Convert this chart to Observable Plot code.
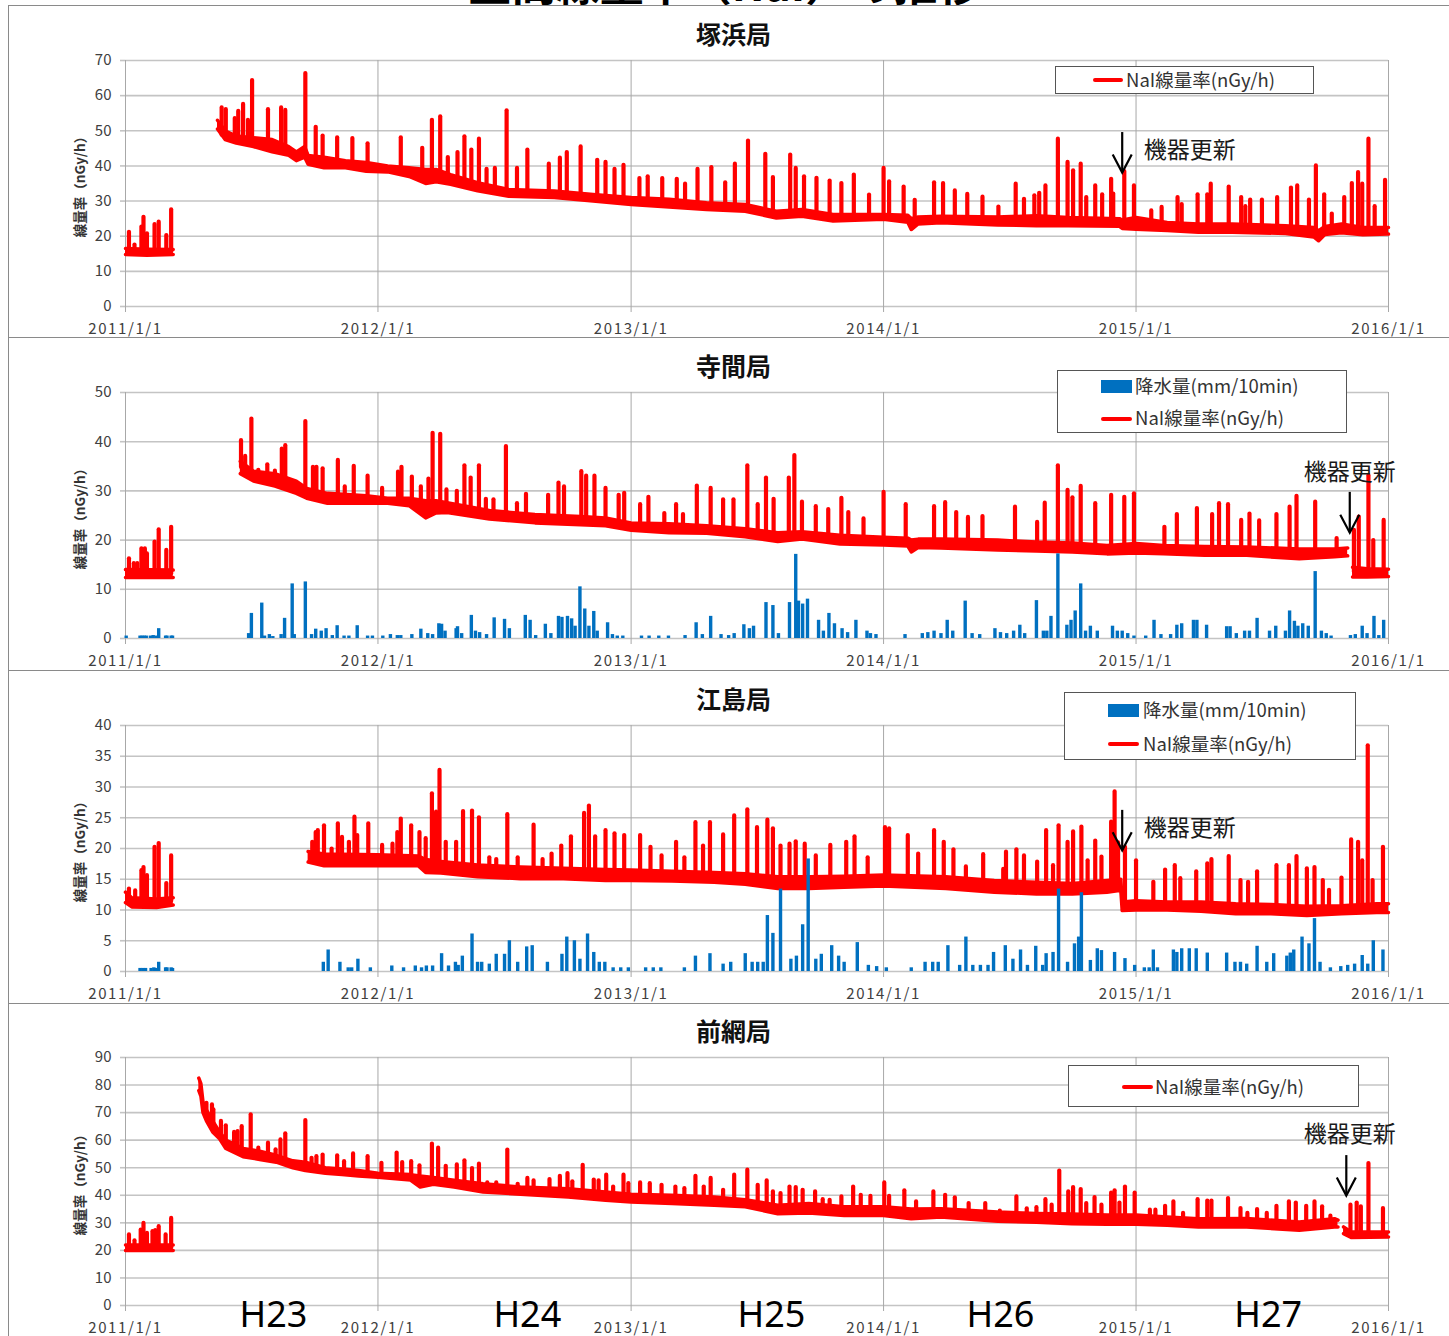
<!DOCTYPE html>
<html><head><meta charset="utf-8">
<script src="https://cdn.jsdelivr.net/npm/d3@7"></script>
<script src="https://cdn.jsdelivr.net/npm/@observablehq/plot@0.6"></script>
<style>
body{margin:0;background:#fff;}
#page{position:relative;width:1449px;height:1336px;overflow:hidden;background:#fff;font-family:"Noto Sans CJK JP","Noto Sans",sans-serif;}
#frame{position:absolute;left:8px;top:5px;right:-5px;bottom:-5px;border-left:1.5px solid #8a8a8a;border-top:1.5px solid #8a8a8a;}
.sep{position:absolute;left:8px;right:0;height:0;border-top:1.5px solid #8a8a8a;}
.panel{position:absolute;left:0;width:1449px;height:333px;}
.panel svg{overflow:visible;}
.legend{position:absolute;border:1.3px solid #555;background:#fff;box-sizing:border-box;}
.li{position:absolute;font-size:18.5px;color:#333;line-height:1;white-space:nowrap;}
.ls{position:absolute;height:4px;background:#ff0000;border-radius:2px;}
.bs{position:absolute;background:#0070c0;}
#title{position:absolute;left:0;width:1449px;top:-40px;height:45px;overflow:hidden;text-align:center;font-size:44px;font-weight:bold;color:#000;line-height:45px;}
</style></head>
<body><div id="page">
<div id="title"><span style="border-bottom:3px solid #000;">空間線量率（NaI）の推移</span></div>
<div id="frame"></div>
<div class="sep" style="top:337px"></div>
<div class="sep" style="top:670px"></div>
<div class="sep" style="top:1003px"></div>
<div id="p1" class="panel" style="top:5px"></div>
<div id="p2" class="panel" style="top:337px"></div>
<div id="p3" class="panel" style="top:670px"></div>
<div id="p4" class="panel" style="top:1003px"></div>

<div class="legend" style="left:1055px;top:66px;width:259px;height:28px;">
  <div class="ls" style="left:37px;top:11px;width:30px;"></div>
  <div class="li" style="left:70px;top:3px;">NaI線量率(nGy/h)</div>
</div>
<div class="legend" style="left:1057px;top:370px;width:290px;height:63px;">
  <div class="bs" style="left:43px;top:9px;width:31px;height:13px;"></div>
  <div class="li" style="left:77px;top:5px;">降水量(mm/10min)</div>
  <div class="ls" style="left:43px;top:46px;width:31px;"></div>
  <div class="li" style="left:77px;top:37px;">NaI線量率(nGy/h)</div>
</div>
<div class="legend" style="left:1064px;top:692px;width:292px;height:68px;">
  <div class="bs" style="left:43px;top:11px;width:31px;height:13px;"></div>
  <div class="li" style="left:78px;top:7px;">降水量(mm/10min)</div>
  <div class="ls" style="left:43px;top:49px;width:31px;"></div>
  <div class="li" style="left:78px;top:41px;">NaI線量率(nGy/h)</div>
</div>
<div class="legend" style="left:1068px;top:1065px;width:291px;height:42px;">
  <div class="ls" style="left:53px;top:19px;width:31px;"></div>
  <div class="li" style="left:86px;top:11px;">NaI線量率(nGy/h)</div>
</div>
</div>
<script>
// ---------------- data ----------------
const years = ["2011-01-01","2012-01-01","2013-01-01","2014-01-01","2015-01-01","2016-01-01"];
const stationNames = ["塚浜局","寺間局","江島局","前網局"];
const yAxisTitle = "線量率（nGy/h）";
const updateLabel = "機器更新";
const fiscalYears = ["H23","H24","H25","H26","H27"];
const fiscalLabelDates = ["2011-08-03","2012-08-04","2013-07-23","2014-06-19","2015-07-11"];

// band rows: [date, lower edge, upper edge]  (null = data gap)
const tsukahamaBand = [
["2011-01-01",14.8,16.5],["2011-02-01",14.6,16.3],["2011-03-11",14.8,16.2],["2011-03-12",null,null],
["2011-05-14",50.5,53],["2011-05-25",47.5,50],["2011-06-10",46.5,48.5],["2011-07-05",45.5,48],["2011-08-01",44,47.5],
["2011-08-25",43,45.5],["2011-09-05",41.5,44],["2011-09-17",42.5,45.5],["2011-09-22",40.5,43],["2011-10-15",39.5,42.5],
["2011-11-15",39.5,41.5],["2011-12-15",38.5,41],["2012-01-15",38.3,40],["2012-02-15",37,39.5],["2012-03-10",35,39],
["2012-03-25",35.5,39],["2012-04-15",34.8,37.5],["2012-05-24",32.9,35.2],["2012-07-08",31.4,33.3],["2012-09-12",31,32.9],
["2012-11-07",30,31.9],["2013-01-01",29,31],["2013-02-25",28.3,30.5],["2013-04-20",27.6,29.5],["2013-06-15",27.1,29],
["2013-07-30",25.2,27.1],["2013-09-05",25.7,27.6],["2013-10-20",24.3,26.2],["2014-01-01",24.8,26.2],["2014-02-05",24,26],
["2014-02-10",21.9,25],["2014-02-20",23.5,25.5],["2014-03-25",23.8,25.7],["2014-06-15",23.2,25.5],["2014-08-10",23,25.8],
["2014-09-25",23,25.3],["2014-12-08",22.8,25],["2014-12-12",22.2,24.6],["2015-01-01",22,25.3],["2015-02-15",21.6,23.9],
["2015-04-01",21.1,23.5],["2015-05-20",21.1,23.5],["2015-08-05",20.8,23],["2015-09-15",19.8,22.5],["2015-09-22",18.7,21.6],
["2015-10-01",20.5,22.8],["2015-10-25",21,23.5],["2015-11-25",20.4,22.5],["2016-01-01",20.6,22.5]];
// spike rows: [date, peak]
const tsukahamaSpikes = [
["2011-01-06",21.1],["2011-01-14",17.5],["2011-01-24",22.6],["2011-01-27",25.4],["2011-02-01",20.7],["2011-02-12",23.3],
["2011-02-18",24],["2011-03-01",20.2],["2011-03-08",27.5],["2011-05-20",56.5],["2011-05-26",56],["2011-06-08",53.5],
["2011-06-13",55.5],["2011-06-20",57.5],["2011-06-27",53],["2011-07-03",64.3],["2011-07-26",56],["2011-08-14",56.5],
["2011-08-20",55.8],["2011-09-18",66.3],["2011-10-03",51],["2011-10-13",48.5],["2011-11-03",48],["2011-11-25",47.8],
["2011-12-17",46.3],["2012-02-03",48],["2012-03-05",45],["2012-03-19",53],["2012-03-31",54],["2012-04-11",42.4],
["2012-04-25",43.8],["2012-05-05",48.3],["2012-05-15",44.5],["2012-05-26",47.6],["2012-06-06",39],["2012-06-18",39.3],
["2012-07-05",55.7],["2012-07-20",39.3],["2012-08-04",44.5],["2012-09-04",40.5],["2012-09-20",42.2],["2012-09-30",43.8],
["2012-10-20",45.4],["2012-11-13",41.6],["2012-11-25",41],["2012-12-08",39],["2012-12-21",40.2],["2013-01-13",36.4],
["2013-01-25",36.9],["2013-02-15",36.4],["2013-03-08",36.2],["2013-03-20",34.8],["2013-04-07",39],["2013-04-27",39.5],
["2013-05-17",35.2],["2013-05-31",40.5],["2013-06-19",47.1],["2013-07-14",43.3],["2013-07-25",36.7],["2013-08-19",43.1],
["2013-08-27",39.3],["2013-09-08",36.9],["2013-09-26",36.5],["2013-10-15",35.7],["2013-11-01",35],["2013-11-19",37.4],
["2013-12-11",31.7],["2014-01-01",39.3],["2014-01-09",35.5],["2014-01-30",34],["2014-02-15",30.2],["2014-03-15",35.2],
["2014-03-28",35],["2014-04-14",32.9],["2014-05-02",31.9],["2014-05-24",31.1],["2014-06-16",28.3],["2014-07-11",34.8],
["2014-07-23",30.5],["2014-08-07",31.5],["2014-08-14",32.2],["2014-08-23",34.3],["2014-09-10",47.6],["2014-09-24",41],
["2014-10-02",38.6],["2014-10-13",40.5],["2014-10-21",31],["2014-11-03",34.3],["2014-11-13",31.8],["2014-11-26",36.2],
["2014-11-29",32],["2014-12-15",38.4],["2014-12-29",34.3],["2015-01-23",27.2],["2015-02-07",28.2],["2015-03-02",31],
["2015-03-08",29],["2015-03-31",31.8],["2015-04-14",31.8],["2015-04-19",34.8],["2015-05-15",34],["2015-06-02",31],
["2015-06-08",28.4],["2015-06-15",30.3],["2015-07-02",30.3],["2015-07-24",31],["2015-08-13",33.7],["2015-08-22",34.3],
["2015-09-08",30.3],["2015-09-18",40],["2015-09-30",31.8],["2015-10-11",26.3],["2015-10-29",31],["2015-11-09",35],
["2015-11-18",38.1],["2015-11-24",34.8],["2015-12-03",47.6],["2015-12-12",28.4],["2015-12-27",35.9]];

const teramaBand = [
["2011-01-01",12.4,14],["2011-03-11",12.4,13.9],["2011-03-12",null,null],
["2011-06-16",33.5,36],["2011-07-05",32,34],["2011-08-05",31,33.5],["2011-09-05",29.5,32],["2011-09-20",28.5,30.5],
["2011-10-20",27.5,29.5],["2011-12-15",27.5,29],["2012-01-15",27.5,28.5],["2012-02-15",27,28.5],["2012-03-10",24.5,28],
["2012-03-25",25.5,28],["2012-04-10",25.6,27.6],["2012-06-10",24.3,26],["2012-08-15",23.5,25.2],["2012-10-20",23.1,24.8],
["2012-11-25",22.9,24.5],["2013-01-01",22,23.5],["2013-02-25",21.5,23.3],["2013-04-20",21.4,22.9],["2013-06-15",20.7,22.3],
["2013-08-01",19.7,21.5],["2013-09-05",20.2,21.7],["2013-10-30",19.2,21],["2014-01-01",19,20.6],["2014-02-05",18.8,20.4],
["2014-02-10",17.6,20],["2014-02-20",18.5,20.2],["2014-03-25",18.4,20.2],["2014-06-15",18,20],["2014-08-10",17.8,19.6],
["2014-10-01",17.6,19.4],["2014-11-20",17.2,18.9],["2015-01-01",17.4,19.3],["2015-02-10",17.2,18.9],["2015-04-10",16.9,18.7],
["2015-06-10",16.9,18.6],["2015-08-25",16.2,18.2],["2015-10-15",16.6,18.2],["2015-11-03",16.8,18.4],["2015-11-04",null,null],
["2015-11-10",12.5,14.5],["2015-12-01",12.5,14.2],["2016-01-01",12.6,14.1]];
const teramaSpikes = [
["2011-01-06",16.2],["2011-01-13",15.2],["2011-01-18",15.2],["2011-01-24",18.2],["2011-01-29",18.2],["2011-02-01",17.2],
["2011-02-12",19.6],["2011-02-18",22.1],["2011-03-01",17.9],["2011-03-08",22.6],["2011-06-17",40.2],["2011-06-23",37],
["2011-07-02",44.6],["2011-07-12",34.2],["2011-07-25",35.3],["2011-08-05",34],["2011-08-15",38.5],["2011-08-20",39.2],
["2011-09-18",44.1],["2011-09-29",34.8],["2011-10-04",34.8],["2011-10-13",34.5],["2011-11-04",36.2],["2011-11-14",30.8],
["2011-11-27",35],["2011-12-17",33],["2012-01-07",30.5],["2012-01-30",33.8],["2012-02-04",34.8],["2012-02-19",32.8],
["2012-03-03",30.8],["2012-03-14",32.4],["2012-03-20",41.7],["2012-03-31",41.5],["2012-04-09",30.2],["2012-04-24",29.9],
["2012-05-05",35.1],["2012-05-14",32.6],["2012-05-26",35.1],["2012-06-05",28.3],["2012-06-16",28.2],["2012-07-04",39],
["2012-07-20",27.4],["2012-08-02",29.3],["2012-09-03",29.1],["2012-09-18",31.6],["2012-09-26",30.8],["2012-10-21",33.9],
["2012-10-28",33],["2012-11-09",33],["2012-11-25",30.5],["2012-12-14",29.1],["2012-12-22",29.5],["2013-01-14",27.2],
["2013-01-26",28.7],["2013-02-18",25.4],["2013-03-07",27.2],["2013-03-17",25.2],["2013-04-06",31],["2013-04-26",30.5],
["2013-05-14",28.2],["2013-05-29",28.2],["2013-06-18",35.1],["2013-07-03",27.2],["2013-07-15",32.6],["2013-07-26",28.3],
["2013-08-17",32.6],["2013-08-25",37.2],["2013-09-05",27.7],["2013-09-25",26.8],["2013-10-13",26.2],["2013-11-01",28.5],
["2013-11-11",25.6],["2013-12-03",24.3],["2014-01-01",29.7],["2014-02-02",27.2],["2014-03-15",26.8],["2014-03-31",27.6],
["2014-04-16",25.6],["2014-05-03",24.6],["2014-05-24",24.8],["2014-07-10",26.7],["2014-08-11",23.6],["2014-08-22",27.5],
["2014-09-10",35.1],["2014-09-24",30.1],["2014-10-01",28.6],["2014-10-13",30.9],["2014-11-03",27.4],["2014-11-26",29.1],
["2014-12-15",28.7],["2014-12-29",29.4],["2015-02-11",22.6],["2015-03-01",25.2],["2015-03-30",26.4],["2015-04-21",25.2],
["2015-05-01",27.4],["2015-05-14",27.2],["2015-06-02",24],["2015-06-14",25.3],["2015-06-28",23.9],["2015-07-23",25.2],
["2015-08-11",26.7],["2015-08-21",28.9],["2015-09-17",27.7],["2015-10-18",20.3],["2015-11-12",22],["2015-11-19",24.7],
["2015-12-03",33.1],["2015-12-10",19.9],["2015-12-25",24]];
// rain rows: [date, mm/10min]
const teramaRain = [
["2011-01-02",0.5],["2011-01-22",0.5],["2011-01-25",0.5],["2011-01-28",0.5],["2011-01-31",0.5],["2011-02-06",0.5],
["2011-02-10",0.6],["2011-02-14",0.5],["2011-02-18",2.0],["2011-02-28",0.5],["2011-03-02",0.5],["2011-03-08",0.5],
["2011-03-10",0.5],["2011-06-28",1.0],["2011-07-02",5.1],["2011-07-17",7.2],["2011-07-21",0.5],["2011-07-28",0.8],
["2011-08-02",0.4],["2011-08-14",0.8],["2011-08-19",4.1],["2011-08-30",11.1],["2011-09-02",0.8],["2011-09-18",11.5],
["2011-09-27",0.8],["2011-10-03",1.9],["2011-10-11",1.5],["2011-10-18",2.0],["2011-10-27",0.6],["2011-11-03",2.6],
["2011-11-13",0.5],["2011-11-20",0.5],["2011-12-02",2.6],["2011-12-17",0.5],["2011-12-24",0.5],["2012-01-08",0.5],
["2012-01-19",0.8],["2012-01-29",0.6],["2012-02-03",0.6],["2012-02-19",0.8],["2012-03-03",1.9],["2012-03-13",1.0],
["2012-03-20",0.8],["2012-03-29",3.0],["2012-04-02",2.9],["2012-04-07",1.5],["2012-04-23",2.0],["2012-04-25",2.4],
["2012-05-01",1.0],["2012-05-15",4.7],["2012-05-21",1.5],["2012-05-27",1.2],["2012-06-06",0.8],["2012-06-17",4.2],
["2012-07-02",3.9],["2012-07-09",2.0],["2012-08-01",4.7],["2012-08-08",3.7],["2012-08-16",0.6],["2012-08-30",2.9],
["2012-09-07",1.0],["2012-09-18",4.5],["2012-09-23",4.3],["2012-10-01",4.5],["2012-10-07",4.0],["2012-10-12",2.5],
["2012-10-19",10.5],["2012-10-26",6.0],["2012-11-01",2.5],["2012-11-08",5.5],["2012-11-13",1.5],["2012-11-28",3.2],
["2012-12-05",0.8],["2012-12-12",0.5],["2012-12-20",0.5],["2013-01-16",0.5],["2013-01-27",0.5],["2013-02-10",0.5],
["2013-02-24",0.5],["2013-03-20",0.6],["2013-04-05",3.2],["2013-04-14",0.8],["2013-04-26",4.5],["2013-05-11",0.8],
["2013-05-22",0.6],["2013-05-30",1.0],["2013-06-13",2.8],["2013-06-21",2.0],["2013-06-27",2.5],["2013-07-15",7.3],
["2013-07-25",6.7],["2013-08-02",1.0],["2013-08-18",7.3],["2013-08-27",17.1],["2013-08-31",7.6],["2013-09-06",7.0],
["2013-09-13",8.0],["2013-09-29",3.7],["2013-10-06",1.5],["2013-10-14",5.1],["2013-10-22",3.0],["2013-11-02",2.0],
["2013-11-10",1.2],["2013-11-22",3.7],["2013-12-08",1.5],["2013-12-13",1.0],["2013-12-21",0.8],["2014-02-01",0.8],
["2014-02-26",1.0],["2014-03-06",1.2],["2014-03-15",1.5],["2014-03-25",1.0],["2014-04-03",3.7],["2014-04-11",1.5],
["2014-04-29",7.6],["2014-05-09",1.0],["2014-05-20",0.8],["2014-06-11",2.0],["2014-06-19",1.2],["2014-06-28",1.0],
["2014-07-08",1.5],["2014-07-17",2.7],["2014-07-24",1.0],["2014-08-10",7.7],["2014-08-20",1.5],["2014-08-25",1.5],
["2014-08-31",4.5],["2014-09-10",17.2],["2014-09-23",2.7],["2014-09-29",3.7],["2014-10-05",5.6],["2014-10-13",11.1],
["2014-10-20",1.5],["2014-10-27",2.5],["2014-11-06",1.5],["2014-11-28",2.5],["2014-12-05",1.5],["2014-12-12",1.5],
["2014-12-20",1.0],["2014-12-29",0.5],["2015-01-15",0.5],["2015-01-27",3.7],["2015-02-06",0.8],["2015-02-20",0.8],
["2015-03-01",2.7],["2015-03-08",3.0],["2015-03-25",3.7],["2015-03-30",3.7],["2015-04-13",2.7],["2015-05-12",2.4],
["2015-05-17",2.4],["2015-05-26",1.0],["2015-06-07",1.5],["2015-06-14",1.5],["2015-06-25",4.1],["2015-07-13",1.5],
["2015-07-22",2.5],["2015-08-05",1.5],["2015-08-11",5.6],["2015-08-18",3.5],["2015-08-23",2.5],["2015-08-30",3.0],
["2015-09-07",2.5],["2015-09-17",13.6],["2015-09-26",1.5],["2015-10-03",1.0],["2015-10-10",0.5],["2015-11-07",0.6],
["2015-11-14",0.8],["2015-11-24",2.5],["2015-12-01",1.0],["2015-12-11",4.5],["2015-12-18",0.6],["2015-12-25",3.7]];

const ejimaBand = [
["2011-01-01",11.2,12.9],["2011-01-10",10.5,12],["2011-02-15",10.4,11.8],["2011-03-11",10.8,12],["2011-03-12",null,null],
["2011-09-22",17.8,19.5],["2011-10-15",17.2,19.1],["2011-12-31",17.2,19],["2012-02-28",17.2,18.8],["2012-03-10",16.1,18.2],
["2012-04-01",16,17.9],["2012-05-24",15.4,17.3],["2012-07-25",15.1,17],["2012-09-25",15.1,16.8],["2012-11-25",14.8,16.6],
["2013-01-01",14.8,16.5],["2013-03-01",14.7,16.3],["2013-05-01",14.5,16.1],["2013-06-15",14.2,15.9],["2013-08-01",13.5,15.4],
["2013-09-15",13.5,15.4],["2013-11-05",13.7,15.5],["2014-01-01",13.9,15.7],["2014-04-01",13.5,15.4],["2014-06-10",12.9,14.8],
["2014-08-10",12.6,14.5],["2014-10-01",12.6,14.3],["2014-11-20",12.9,14.8],["2014-12-10",13.2,15],["2014-12-12",9.9,11.3],
["2015-01-01",10,11.5],["2015-02-15",10,11.3],["2015-04-05",9.8,11.3],["2015-05-25",9.4,11],["2015-07-15",9.4,10.9],
["2015-09-05",9.1,10.6],["2015-10-25",9.4,10.7],["2015-12-15",9.6,11],["2016-01-01",9.6,11]];
const ejimaSpikes = [
["2011-01-06",13.4],["2011-01-15",13.1],["2011-01-24",16.4],["2011-01-27",16.9],["2011-02-01",15.6],["2011-02-12",20.2],
["2011-02-18",20.8],["2011-03-01",14.3],["2011-03-08",18.8],["2011-09-28",21],["2011-10-03",22.6],["2011-10-06",22.9],
["2011-10-15",23.7],["2011-10-26",19.9],["2011-11-04",24],["2011-11-10",21.8],["2011-11-20",21],["2011-11-28",25.1],
["2011-12-02",22.1],["2011-12-18",24],["2012-01-07",20.5],["2012-01-22",20.7],["2012-01-29",22.6],["2012-02-03",24.8],
["2012-02-18",23.7],["2012-03-01",22.6],["2012-03-10",21.6],["2012-03-19",28.9],["2012-03-25",25.9],["2012-03-30",32.7],
["2012-04-08",21],["2012-04-23",21],["2012-05-03",26],["2012-05-16",26.1],["2012-05-26",25],["2012-06-10",18.5],
["2012-06-20",18.2],["2012-07-06",25.5],["2012-07-21",18.5],["2012-08-13",23.8],["2012-08-26",18.2],["2012-09-08",19.1],
["2012-09-22",20.4],["2012-10-06",21.9],["2012-10-25",25.7],["2012-11-01",26.9],["2012-11-10",21.9],["2012-11-25",22.9],
["2012-12-08",22.4],["2012-12-22",22.1],["2013-01-14",22.1],["2013-01-29",20.2],["2013-02-14",18.8],["2013-03-07",21],
["2013-03-19",18.5],["2013-04-04",24.2],["2013-04-15",20.4],["2013-04-25",24.2],["2013-05-14",22.2],["2013-05-30",25.3],
["2013-06-18",26.3],["2013-07-02",23.4],["2013-07-17",24.6],["2013-07-25",23.2],["2013-08-05",20.4],["2013-08-18",20.7],
["2013-08-27",21.1],["2013-09-09",20.7],["2013-09-25",18.8],["2013-10-16",20.5],["2013-11-08",21],["2013-11-20",21.9],
["2013-12-09",18.5],["2014-01-03",23.4],["2014-01-09",23.2],["2014-02-05",22.1],["2014-02-20",19.1],["2014-03-15",22.9],
["2014-03-29",21],["2014-04-12",19.8],["2014-04-30",17],["2014-05-25",19],["2014-06-23",16.6],["2014-06-27",19.4],
["2014-07-12",19.8],["2014-07-23",18.8],["2014-08-11",17.8],["2014-08-24",22.9],["2014-09-03",17.2],["2014-09-11",23.7],
["2014-09-24",21],["2014-10-02",22.7],["2014-10-14",23.5],["2014-10-23",18],["2014-11-03",21.2],["2014-11-12",18.6],
["2014-11-26",24.3],["2014-12-01",29.2],["2014-12-06",20.9],["2014-12-16",20.2],["2015-01-01",18],["2015-01-26",14.5],
["2015-02-12",16.5],["2015-02-26",17.2],["2015-03-06",15.1],["2015-03-29",16.2],["2015-04-14",17.5],["2015-04-20",18.2],
["2015-05-15",18.7],["2015-06-01",14.8],["2015-06-12",14.5],["2015-06-25",16.2],["2015-07-23",17.2],["2015-08-10",17.2],
["2015-08-21",18.7],["2015-09-05",16.7],["2015-09-16",16.9],["2015-09-28",14.8],["2015-10-07",13.2],["2015-10-25",15.2],
["2015-11-08",21.4],["2015-11-18",21],["2015-11-24",18],["2015-12-02",36.7],["2015-12-09",14.8],["2015-12-24",20.2]];
const ejimaRain = [
["2011-01-22",0.5],["2011-01-26",0.5],["2011-01-30",0.5],["2011-02-07",0.5],["2011-02-11",0.6],["2011-02-15",0.5],
["2011-02-18",1.5],["2011-02-28",0.6],["2011-03-02",0.6],["2011-03-08",0.6],["2011-03-10",0.5],["2011-10-14",1.5],
["2011-10-21",3.5],["2011-11-07",1.5],["2011-11-19",0.6],["2011-11-24",0.6],["2011-12-03",2.0],["2011-12-21",0.6],
["2012-01-21",0.9],["2012-02-07",0.6],["2012-02-24",0.9],["2012-03-04",0.6],["2012-03-11",0.9],["2012-03-20",0.9],
["2012-04-02",2.9],["2012-04-12",0.9],["2012-04-22",1.5],["2012-04-26",1.0],["2012-05-02",2.5],["2012-05-16",6.1],
["2012-05-24",1.5],["2012-05-30",1.5],["2012-06-10",1.2],["2012-06-20",2.8],["2012-07-02",2.8],["2012-07-09",5.0],
["2012-07-21",1.5],["2012-08-03",4.0],["2012-08-11",4.2],["2012-09-02",1.5],["2012-09-23",2.8],["2012-09-30",5.6],
["2012-10-11",5.0],["2012-10-19",2.0],["2012-10-30",6.1],["2012-11-08",3.1],["2012-11-16",1.5],["2012-11-24",1.5],
["2012-12-06",0.6],["2012-12-17",0.6],["2012-12-28",0.6],["2013-01-22",0.6],["2013-02-02",0.6],["2013-02-13",0.6],
["2013-03-19",0.6],["2013-04-04",2.5],["2013-04-25",2.9],["2013-05-14",1.2],["2013-05-25",1.5],["2013-06-15",2.9],
["2013-06-25",1.5],["2013-07-03",1.5],["2013-07-11",1.5],["2013-07-17",9.1],["2013-07-25",6.2],["2013-08-05",13.4],
["2013-08-20",2.0],["2013-08-28",2.5],["2013-09-06",7.6],["2013-09-14",18.3],["2013-09-25",2.0],["2013-10-03",2.8],
["2013-10-18",4.2],["2013-10-28",2.5],["2013-11-05",1.5],["2013-11-24",4.7],["2013-12-10",1.0],["2013-12-22",0.8],
["2014-01-05",0.6],["2014-02-10",0.6],["2014-03-02",1.5],["2014-03-13",1.5],["2014-03-21",1.5],["2014-04-04",4.2],
["2014-04-21",1.0],["2014-04-30",5.6],["2014-05-10",1.0],["2014-05-21",1.0],["2014-06-01",1.0],["2014-06-09",3.1],
["2014-06-26",4.2],["2014-07-07",2.0],["2014-07-18",3.5],["2014-07-28",1.0],["2014-08-09",4.1],["2014-08-19",1.0],
["2014-08-24",2.9],["2014-09-03",3.1],["2014-09-11",13.4],["2014-09-24",1.5],["2014-10-04",4.5],["2014-10-10",5.6],
["2014-10-14",12.8],["2014-10-27",1.8],["2014-11-06",3.7],["2014-11-12",3.4],["2014-12-01",3.1],["2014-12-16",2.1],
["2014-12-30",1.0],["2015-01-13",0.6],["2015-01-20",0.6],["2015-01-26",3.5],["2015-02-01",0.6],["2015-02-24",3.5],
["2015-03-01",3.1],["2015-03-08",3.7],["2015-03-19",3.7],["2015-03-29",3.7],["2015-04-14",3.0],["2015-05-12",3.0],
["2015-05-24",1.5],["2015-06-01",1.5],["2015-06-10",1.2],["2015-06-25",4.1],["2015-07-09",1.5],["2015-07-19",2.9],
["2015-08-07",2.5],["2015-08-12",3.0],["2015-08-17",3.5],["2015-08-29",5.6],["2015-09-08",4.5],["2015-09-16",8.6],
["2015-09-24",1.5],["2015-10-09",0.6],["2015-10-24",0.8],["2015-11-03",1.0],["2015-11-13",1.2],["2015-11-24",2.6],
["2015-12-02",1.2],["2015-12-10",5.0],["2015-12-24",3.5]];

const maeamiBand = [
["2011-01-01",20,22],["2011-03-11",20,22],["2011-03-12",null,null],
["2011-04-17",78,82.5],["2011-04-20",76,80.5],["2011-04-23",70,74],["2011-04-28",67,71],["2011-05-07",63,67],
["2011-05-17",60.5,63],["2011-05-26",57,60],["2011-06-20",54,57],["2011-07-14",53,56],["2011-08-07",52,54.5],
["2011-08-31",50,52.5],["2011-09-18",49,52],["2011-10-17",48,50],["2011-11-10",47.5,49.5],["2011-12-04",47,49],
["2012-01-01",46.5,48],["2012-02-17",45.5,47.5],["2012-03-02",43,47],["2012-03-21",44,46.5],["2012-04-20",43,45.5],
["2012-06-01",41.2,44.2],["2012-07-25",40.4,43],["2012-10-02",39.4,42.4],["2012-11-25",38.2,41.2],["2013-01-01",37.6,40.4],
["2013-03-01",37,40],["2013-05-01",36.4,39.4],["2013-06-15",35.8,38.4],["2013-08-01",33.3,36.4],["2013-09-15",33.6,37],
["2013-11-05",32.7,35.8],["2014-01-01",32.7,35.8],["2014-02-10",31.5,35],["2014-03-25",32.1,35.1],["2014-06-15",30.6,33.9],
["2014-08-10",30.2,33.4],["2014-09-30",29.7,33.2],["2014-11-20",29.5,32.8],["2015-01-01",29.5,32.8],["2015-02-15",29.1,32.1],
["2015-04-01",28.5,31.5],["2015-06-10",28.5,31.6],["2015-08-25",27.3,30.3],["2015-10-15",28.5,31.5],["2015-10-20",28.5,31],
["2015-10-22",null,null],["2015-10-28",26.1,28.5],["2015-11-08",24.7,26.7],["2016-01-01",24.9,26.7]];
const maeamiSpikes = [
["2011-01-06",25.6],["2011-01-14",23.5],["2011-01-23",27.4],["2011-01-27",29.8],["2011-02-01",26.2],["2011-02-09",26.8],
["2011-02-13",27.2],["2011-02-18",28.6],["2011-02-28",25.6],["2011-03-08",31.6],["2011-04-28",73.4],["2011-05-06",72.8],
["2011-05-08",71],["2011-05-19",66.8],["2011-05-26",65.2],["2011-06-07",62.8],["2011-06-12",63.1],["2011-06-18",64.9],
["2011-07-01",69.2],["2011-07-12",57.1],["2011-07-26",58.9],["2011-08-06",56.5],["2011-08-13",60.1],["2011-08-20",62.3],
["2011-09-18",67.1],["2011-09-27",53.4],["2011-10-04",54],["2011-10-13",54.6],["2011-11-03",54.3],["2011-11-13",52.2],
["2011-11-26",55],["2011-12-17",54],["2012-01-06",51.6],["2012-01-28",55.3],["2012-02-05",51.9],["2012-02-18",52.2],
["2012-03-01",50.7],["2012-03-19",58.6],["2012-03-28",57.1],["2012-04-08",50.5],["2012-04-24",51],["2012-05-05",52.5],
["2012-05-16",49.7],["2012-05-26",51.3],["2012-06-07",44.5],["2012-06-20",44.5],["2012-07-06",56.4],["2012-07-21",44],
["2012-08-04",46.1],["2012-08-13",45.2],["2012-09-05",45.7],["2012-09-20",46.9],["2012-10-01",47.9],["2012-10-08",44.9],
["2012-10-23",50.9],["2012-11-08",45.5],["2012-11-15",45.2],["2012-11-26",47.3],["2012-12-06",43],["2012-12-21",47.3],
["2012-12-28",44.2],["2013-01-14",44.5],["2013-01-28",44.2],["2013-02-14",43.6],["2013-03-06",43],["2013-03-19",42.4],
["2013-04-04",46.9],["2013-04-16",43],["2013-04-26",46.1],["2013-05-14",41.8],["2013-05-30",47.3],["2013-06-18",49.1],
["2013-07-03",43.6],["2013-07-16",45.2],["2013-07-25",41.2],["2013-08-05",40.6],["2013-08-18",43],["2013-08-27",42.8],
["2013-09-06",41.8],["2013-09-24",41.2],["2013-10-05",38.4],["2013-10-15",38.2],["2013-11-01",39.4],["2013-11-18",43],
["2013-11-29",40],["2013-12-13",39.6],["2014-01-02",44.5],["2014-01-09",39.6],["2014-01-31",41.6],["2014-02-17",37.6],
["2014-03-14",41.2],["2014-03-31",40],["2014-04-14",39.1],["2014-05-04",37],["2014-05-28",37],["2014-06-18",34.3],
["2014-07-12",39.4],["2014-07-27",35.1],["2014-08-10",35.5],["2014-08-23",38.4],["2014-09-01",36.4],["2014-09-12",48.8],
["2014-09-25",41.2],["2014-10-02",42.8],["2014-10-13",42.1],["2014-10-21",37],["2014-11-02",39.2],["2014-11-12",36.4],
["2014-11-26",40.8],["2014-12-01",41.6],["2014-12-08",37.2],["2014-12-16",43],["2014-12-30",40.8],["2015-01-21",34.6],
["2015-01-29",34.6],["2015-02-12",36],["2015-02-24",37.6],["2015-03-10",33.4],["2015-03-31",38.4],["2015-04-14",37.9],
["2015-04-20",37.9],["2015-05-14",38.8],["2015-06-01",35.2],["2015-06-11",33.4],["2015-06-25",34.8],["2015-07-09",33.4],
["2015-07-23",36],["2015-08-10",37.6],["2015-08-20",37.2],["2015-09-04",36],["2015-09-16",37.6],["2015-09-27",35.8],
["2015-10-09",32.4],["2015-11-07",36.4],["2015-11-16",37.2],["2015-11-22",35.8],["2015-12-03",51.5],["2015-12-24",35.2]];

// equipment-update annotations: [arrow date, arrow top, arrow tip, label date, label value, label anchor]
const tsukahamaUpdate = ["2014-12-12",49.5,38.1,"2015-01-12",44.4,"start"];
const teramaUpdate    = ["2015-11-06",29.7,21.5,"2015-11-06",33.7,"middle"];
const ejimaUpdate     = ["2014-12-12",26.2,19.7,"2015-01-12",23.3,"start"];
const maeamiUpdate    = ["2015-11-01",54.4,39.9,"2015-11-06",62,"middle"];

// ---------------- drawing ----------------
const RED = "#ff0000", BLUE = "#0070c0";
const parse = d3.utcParse("%Y-%m-%d");
const yearDates = years.map(parse);
const FONT = "'Noto Sans CJK JP','Noto Sans',sans-serif";
// open "V" arrow head drawn around the tip point
const vHead = {draw(ctx) { ctx.moveTo(-9.5, -18); ctx.lineTo(0, 0); ctx.lineTo(9.5, -18); }};

function makePanel(el, {name, band, spikes, rain, yMax, yStep, update, marginTop, marginBottom, fiscal}) {
  const B = band.map(([d, lo, hi]) => ({date: parse(d), lo, hi}));
  const valid = B.filter(d => d.lo != null);
  const base = (t) => { let best = valid[0], bd = Infinity;
    for (const p of valid) { const dd = Math.abs(p.date - t); if (dd < bd) { bd = dd; best = p; } }
    return (best.lo + best.hi) / 2; };
  const S = spikes.map(([d, p]) => ({date: parse(d), peak: p}));
  const yTicks = d3.range(0, yMax + 0.001, yStep);
  const U = [{date: parse(update[0]), from: update[1], to: update[2], ldate: parse(update[3]), lval: update[4]}];
  const marks = [
    Plot.gridY(yTicks, {stroke: "#c4c4c4", strokeOpacity: 1, strokeWidth: 1.6}),
    Plot.gridX(yearDates, {stroke: "#a8a8a8", strokeOpacity: 1, strokeWidth: 1}),
    Plot.axisY(yTicks, {tickSize: 5, tickPadding: 9, stroke: "#c4c4c4", strokeWidth: 1.6, fill: "#404040", fontSize: 15, label: null}),
    Plot.axisX(yearDates, {tickSize: 6, tickPadding: 11, stroke: "#a8a8a8", fill: "#404040", fontSize: 15, label: null,
      tickFormat: d => `${d.getUTCFullYear()}/1/1`}),
    Plot.areaY(B, {x: "date", y1: "lo", y2: "hi", fill: RED, curve: "linear"}),
    Plot.line(B, {x: "date", y: "lo", stroke: RED, strokeWidth: 3.5}),
    Plot.line(B, {x: "date", y: "hi", stroke: RED, strokeWidth: 3.5}),
    Plot.ruleX(S, {x: "date", y1: d => base(d.date), y2: "peak", stroke: RED, strokeWidth: 4.2, strokeLinecap: "round"})
  ];
  if (rain) {
    const R = rain.map(([d, v]) => ({date: parse(d), v}));
    marks.push(Plot.ruleX(R, {x: "date", y1: 0, y2: "v", stroke: BLUE, strokeWidth: 3.4}));
  }
  marks.push(
    Plot.ruleX(U, {x: "date", y1: "from", y2: "to", stroke: "#000", strokeWidth: 2.2}),
    Plot.dot(U, {x: "date", y: "to", symbol: vHead, fill: "none", stroke: "#000", strokeWidth: 2.2, r: 1}),
    Plot.text(U, {x: "ldate", y: "lval", text: () => updateLabel, textAnchor: update[5], fontSize: 23, fill: "#1a1a1a", lineAnchor: "middle"}),
    Plot.text([name], {frameAnchor: "top", dx: -23.5, dy: -25, fontSize: 25, fontWeight: "bold", fill: "#111", lineAnchor: "middle", textAnchor: "middle"}),
    Plot.text([yAxisTitle], {frameAnchor: "left", dx: -45, rotate: -90, fontSize: 13.5, fontWeight: "bold", fill: "#333", lineAnchor: "middle", textAnchor: "middle"})
  );
  if (fiscal) {
    const F = fiscalYears.map((f, i) => ({label: f, date: parse(fiscalLabelDates[i])}));
    marks.push(Plot.text(F, {x: "date", text: "label", frameAnchor: "bottom", dy: 10, fontSize: 36, fill: "#000",
      lineAnchor: "middle", textAnchor: "middle", fontFamily: "'Noto Sans',sans-serif"}));
  }
  const svg = Plot.plot({
    width: 1449, height: 333, marginLeft: 125, marginRight: 61, marginTop, marginBottom,
    style: {background: "transparent", fontFamily: FONT, overflow: "visible"},
    x: {type: "utc", domain: [yearDates[0], yearDates[yearDates.length - 1]]},
    y: {domain: [0, yMax], nice: false},
    marks
  });
  d3.select(svg).selectAll('g[aria-label="x-axis tick label"] text').style("letter-spacing", "1.6px");
  el.appendChild(svg);
}

makePanel(document.getElementById("p1"), {name: stationNames[0], band: tsukahamaBand, spikes: tsukahamaSpikes, rain: null,
  yMax: 70, yStep: 10, update: tsukahamaUpdate, marginTop: 55, marginBottom: 32});
makePanel(document.getElementById("p2"), {name: stationNames[1], band: teramaBand, spikes: teramaSpikes, rain: teramaRain,
  yMax: 50, yStep: 10, update: teramaUpdate, marginTop: 55, marginBottom: 32});
makePanel(document.getElementById("p3"), {name: stationNames[2], band: ejimaBand, spikes: ejimaSpikes, rain: ejimaRain,
  yMax: 40, yStep: 5, update: ejimaUpdate, marginTop: 55, marginBottom: 32});
makePanel(document.getElementById("p4"), {name: stationNames[3], band: maeamiBand, spikes: maeamiSpikes, rain: null,
  yMax: 90, yStep: 10, update: maeamiUpdate, marginTop: 54, marginBottom: 31, fiscal: true});
</script>
</body></html>
